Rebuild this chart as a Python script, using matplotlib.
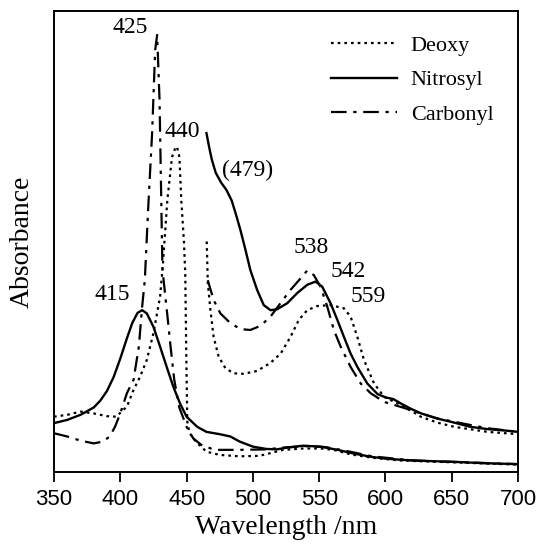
import matplotlib
matplotlib.use("Agg")
import matplotlib.pyplot as plt

# Soret band (full scale), nm / absorbance (arb.)
deoxy_soret_nm = [350, 360, 370, 380, 390, 397, 405, 410, 415, 420, 425, 430, 432, 435.5, 439, 441.5,
                  442.7, 444.6, 446, 448, 449, 449.8, 450.5, 452, 454, 458, 465, 475, 490, 505, 523,
                  538, 551, 561, 574, 590, 610, 650, 700]
deoxy_soret_a = [12, 12.4, 13.1, 12.7, 12.1, 12, 14.2, 17.8, 20.7, 24.3, 30.1, 38, 44.5, 59, 68.3, 70.3,
                 70.6, 68.3, 59, 50, 43, 25, 11, 8.8, 7.6, 6.3, 4.4, 3.7, 3.4, 3.5, 4.8,
                 5.1, 5.1, 4.8, 3.8, 3.1, 2.5, 2.1, 1.6]

nitro_soret_nm = [350, 360, 370, 380, 385, 390, 395, 400, 405, 409, 413, 416.5, 420, 425, 430, 435, 440,
                  445, 450, 458, 465, 475, 483, 490, 500, 510, 518, 526, 538, 551, 564, 576, 589, 600,
                  614, 630, 652, 675, 700]
nitro_soret_a = [10.6, 11.3, 12.4, 14.0, 15.5, 17.6, 20.6, 24.6, 29.0, 32.3, 34.5, 35.1, 34.4, 31.5,
                 27.2, 22.8, 18.5, 14.9, 12, 9.8, 8.7, 8.2, 7.7, 6.6, 5.5, 5.0, 4.9, 5.3, 5.7, 5.5,
                 4.8, 4.0, 3.3, 2.9, 2.6, 2.4, 2.2, 1.9, 1.7]

carb_soret_nm = [350, 360, 370, 380, 387, 392, 396, 400, 405, 410, 414, 416.5, 418.5, 421, 424, 426.3,
                 427.8, 429.6, 431.8, 434, 435.5, 438, 440.7, 444.5, 450, 455, 461, 471, 490, 510, 523,
                 540, 555, 570, 590, 620, 660, 700]
carb_soret_a = [8.4, 7.7, 6.8, 6.2, 6.6, 7.7, 9.8, 12.7, 17.1, 20, 27.2, 35.9, 41.6, 57, 73.5, 91.5,
                94.8, 80.7, 44, 38, 34, 27, 20, 14, 9.8, 7.3, 5.9, 4.8, 4.8, 4.9, 5.3,
                5.6, 5.4, 4.6, 3.4, 2.5, 2.1, 1.7]

# visible bands (magnified)
deoxy_vis_nm = [465.2, 466, 468, 470.4, 474.2, 479.3, 485.6, 493, 503, 513, 521, 528.4, 534.7, 541,
                548.6, 558.6, 568.7, 573.7, 578.8, 583.8, 591.4, 599, 606, 614, 626.6, 639.3, 651.8,
                677, 700]
deoxy_vis_a = [50, 41, 35.1, 29.3, 25, 22.5, 21.4, 21.3, 21.9, 23.6, 25.7, 29.3, 33, 35.1,
               36, 36.2, 35.5, 33.7, 29.3, 24.3, 19.2, 16.3, 15.3, 14.2, 12, 10.7, 9.8,
               8.7, 8.2]

nitro_vis_nm = [465, 467, 469, 472, 476, 480, 484, 487, 490.6, 494.4, 498.1, 503.2, 508.2, 513.3,
                518.3, 525.9, 533.4, 541, 547.3, 552.3, 558.6, 563.7, 568.7, 573.7, 578.8, 586.3, 594,
                600, 606, 612, 620, 627, 639, 652, 664, 677, 690, 700]
nitro_vis_a = [73.5, 70.5, 67.8, 64.9, 62.8, 61.2, 58.9, 56.1, 52.5, 48.2, 43.8, 39.5, 36.2, 35.1,
               35.3, 36.6, 38.8, 40.6, 41.3, 40.2, 36.6, 33, 29.3, 25.7, 22.8, 19.2, 16.9,
               16.2, 15.8, 14.8, 13.6, 12.7, 11.6, 10.7, 9.8, 9.3, 9.0, 8.7]

carb_vis_nm = [466, 470.4, 475.5, 483, 490.6, 498.1, 505.7, 513.3, 520.8, 528.4, 536, 541, 546, 551,
               556.1, 561.1, 566.2, 573.7, 581.3, 588.8, 599, 606, 614, 626.6, 639.3, 651.8, 664, 677,
               700]
carb_vis_a = [41.6, 37.3, 34.4, 32.3, 31, 30.8, 31.7, 33.7, 36.6, 39.5, 42, 43.7, 42.7, 40.2,
              35.9, 30.8, 27.2, 22.8, 19.2, 17.1, 15.2, 14.6, 13.9, 12.7, 11.6, 10.9, 10.2, 9.5,
              8.7]

peak_labels = ["425", "440", "(479)", "538", "542", "559", "415"]
peak_x = [407.4, 447.1, 496.3, 544.3, 571.8, 587, 394.2]
peak_y = [96.4, 73.8, 65.5, 48.6, 43.4, 38.1, 38.4]

serif = "Liberation Serif"
dot = (0, (1.2, 1.8))
dashdot = (0, (7, 3, 1.5, 3))

fig = plt.figure(figsize=(5.4, 5.51), dpi=100)
ax = fig.add_axes([0.1, 0.1434, 0.8593, 0.8367])

ax.plot(deoxy_soret_nm, deoxy_soret_a, color="black", lw=1.6, linestyle=dot, label="Deoxy")
ax.plot(nitro_soret_nm, nitro_soret_a, color="black", lw=1.7, label="Nitrosyl")
ax.plot(carb_soret_nm, carb_soret_a, color="black", lw=1.6, linestyle=dashdot, label="Carbonyl")
ax.plot(deoxy_vis_nm, deoxy_vis_a, color="black", lw=1.6, linestyle=dot)
ax.plot(nitro_vis_nm, nitro_vis_a, color="black", lw=1.7)
ax.plot(carb_vis_nm, carb_vis_a, color="black", lw=1.6, linestyle=dashdot)

for t, x, y in zip(peak_labels, peak_x, peak_y):
    ax.text(x, y, t, ha="center", va="center", fontsize=17, family=serif)

ax.set_xlim(350, 700)
ax.set_ylim(0, 100)
ax.set_xticks(range(350, 701, 50))
ax.set_yticks([])
ax.tick_params(axis="x", direction="out", length=7, width=1.3, labelsize=16, pad=5)
for lab in ax.get_xticklabels():
    lab.set_family("Liberation Sans")
for s in ax.spines.values():
    s.set_linewidth(1.4)

ax.set_xlabel("Wavelength /nm", fontsize=20, family=serif, labelpad=4)
ax.set_ylabel("Absorbance", fontsize=20, family=serif, labelpad=14)

leg = ax.legend(loc="upper right", bbox_to_anchor=(0.99, 0.99), frameon=False,
                prop={"family": serif, "size": 16}, handlelength=3.0, handletextpad=0.6,
                labelspacing=0.62)

fig.savefig("out.png", dpi=100)
